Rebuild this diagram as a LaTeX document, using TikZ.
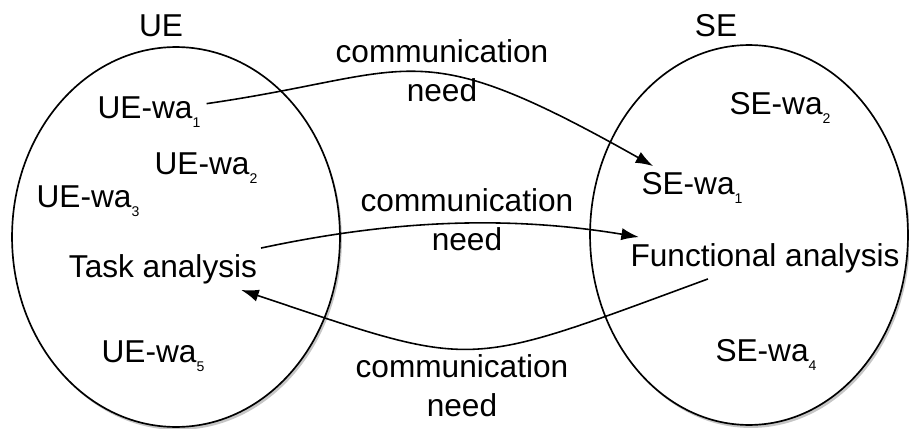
\documentclass[tikz,border=0pt]{standalone}
\usepackage{fontspec}
\setmainfont{Liberation Sans}
\usetikzlibrary{arrows.meta,shapes.geometric,shadows}

% work area name with its index
\newcommand{\wa}[2]{#1-wa\raisebox{-5.3pt}{\fontsize{8}{8}\selectfont #2}}

\begin{document}
\begin{tikzpicture}
    [x=0.02cm, y=-0.02cm,
     every node/.style={font=\fontsize{18}{22}\selectfont},
     side/.style={draw, ellipse, fill=white, line width=0.95pt, inner sep=0pt,
       drop shadow={shadow xshift=1.1pt, shadow yshift=-1.7pt, opacity=0.45}},
     need/.style={align=center},
     comm/.style={-{Latex[length=10pt, width=7pt]}, line width=0.9pt}]

    \useasboundingbox (0, 0) rectangle (909, 429);

    \node [side, minimum width=6.56cm, minimum height=7.6cm] at (176, 237) (ue) {};
    \node [side, minimum width=6.36cm, minimum height=7.6cm] at (749, 235) (se) {};

    \node at (161, 26) (uelabel) {UE};
    \node at (716, 26) (selabel) {SE};

    \node at (149, 112) (uewa1) {\wa{UE}{1}};
    \node at (206, 168) (uewa2) {\wa{UE}{2}};
    \node at (88, 201) (uewa3) {\wa{UE}{3}};
    \node at (163, 269) (task) {Task analysis};
    \node at (153, 356) (uewa5) {\wa{UE}{5}};

    \node at (780, 108) (sewa2) {\wa{SE}{2}};
    \node at (692, 188) (sewa1) {\wa{SE}{1}};
    \node at (765, 258) (func) {Functional analysis};
    \node at (766, 355) (sewa4) {\wa{SE}{4}};

    \draw [comm] (uewa1) .. controls (418, 73) and (412, 30) .. (sewa1);
    \draw [comm] (task) .. controls (383, 222) and (500, 214) .. (func);
    \draw [comm] (func) .. controls (460, 370) and (480, 370) .. (task.-15);

    \node [need] at (442, 71) (need1) {communication\\need};
    \node [need] at (467, 220) (need2) {communication\\need};
    \node [need] at (462, 386) (need3) {communication\\need};

\end{tikzpicture}
\end{document}
